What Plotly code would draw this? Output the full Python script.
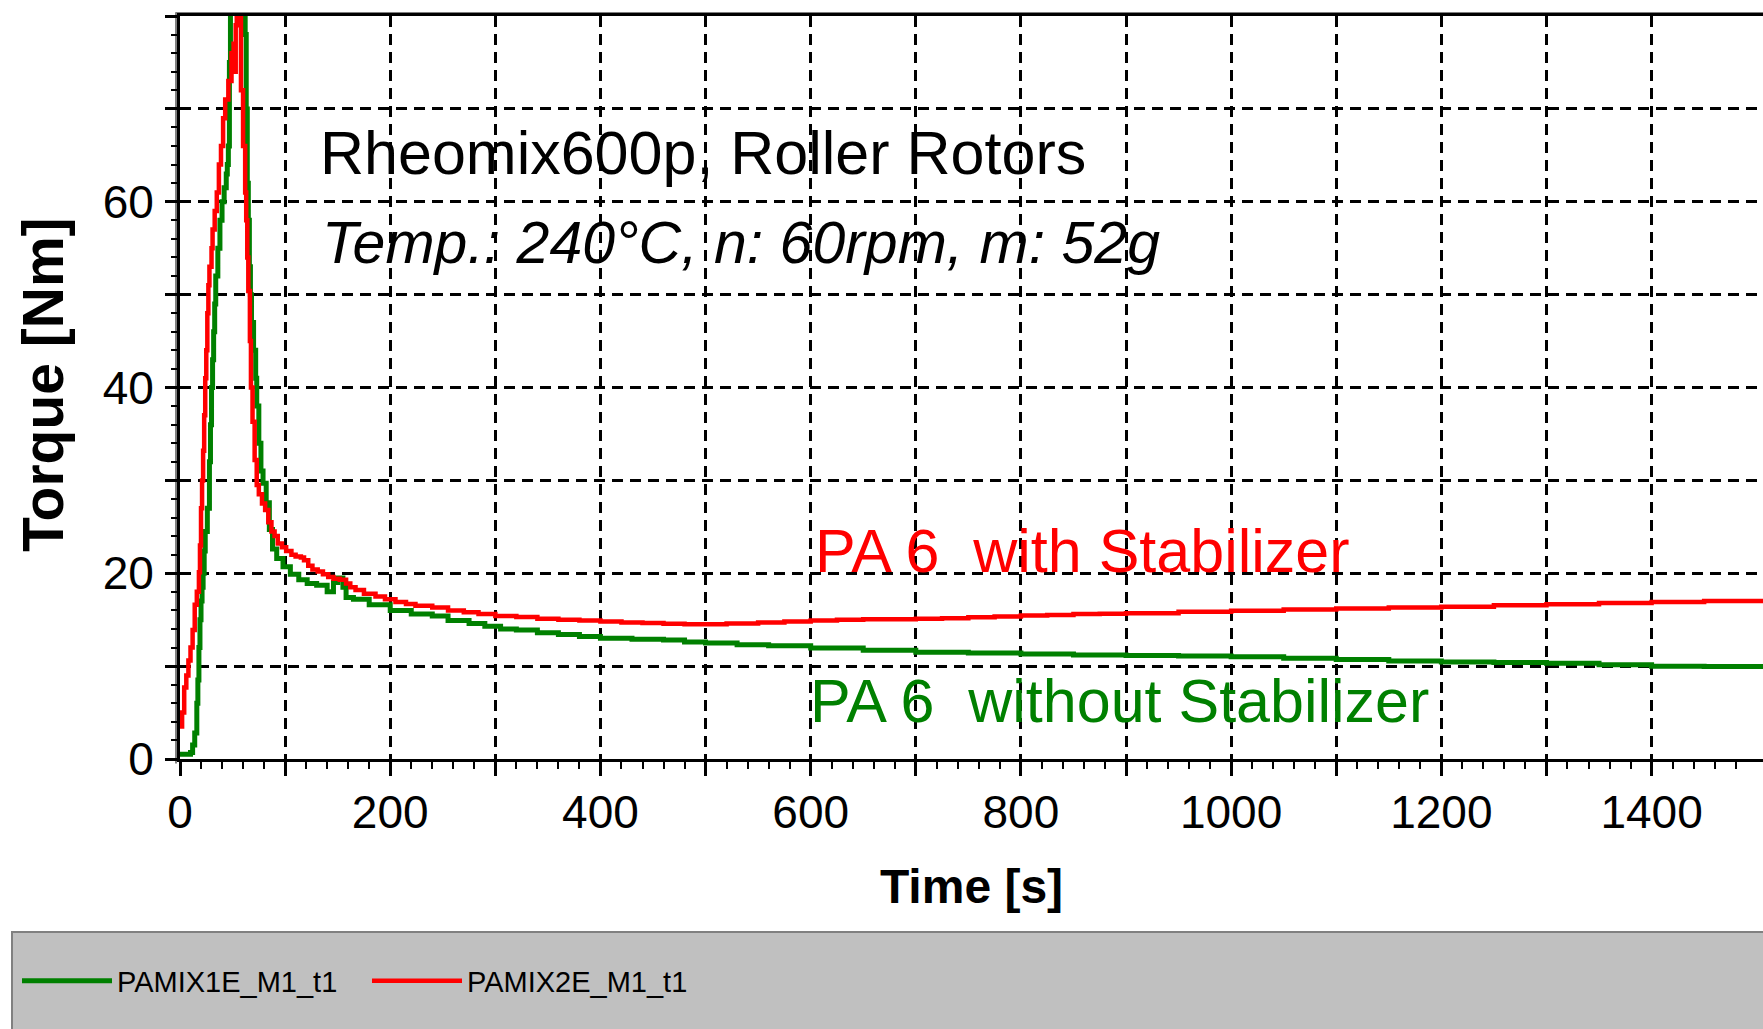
import plotly.graph_objects as go

# ---------------- data ----------------
series_names = ["PAMIX1E_M1_t1", "PAMIX2E_M1_t1"]
series_colors = ["#008000", "#FF0000"]

t_green = [0, 10, 12, 14, 16, 17, 18, 19, 20, 21, 22, 23, 24, 26, 28, 29, 30, 31, 32, 33,
           34, 36, 38, 40, 42, 44, 45, 46, 47, 48, 50, 55, 60, 62, 63, 64, 65, 66, 67, 68,
           70, 72, 73, 75, 77, 79, 82, 85, 88, 92, 98, 105, 113, 121, 130, 140, 146, 150,
           155, 158, 165, 180, 200, 220, 240, 255, 275, 290, 305, 320, 340, 360, 380, 400,
           430, 460, 480, 500, 530, 560, 600, 650, 700, 750, 800, 850, 900, 950, 1000, 1050,
           1100, 1150, 1200, 1250, 1300, 1350, 1400, 1450, 1506]
torque_green = [0.5, 0.7, 1.5, 2.8, 6.0, 8.5, 12.0, 15.0, 17.0, 18.5, 20.0, 22.4, 24.5, 27.0, 32.0, 36.0, 40.0, 43.0, 46.0, 49.0,
                52.0, 55.0, 58.0, 60.0, 61.5, 63.0, 64.0, 66.0, 75.0, 84.0, 88.0, 88.0, 86.0, 78.0, 70.0, 62.0, 58.0, 53.0, 50.0, 47.0,
                44.0, 41.0, 38.0, 34.0, 31.0, 29.7, 27.6, 24.7, 22.6, 21.6, 20.7, 19.9, 19.3, 18.9, 18.7, 18.0, 19.0, 19.5,
                18.5, 17.4, 17.2, 16.6, 16.0, 15.6, 15.4, 14.9, 14.6, 14.3, 14.0, 13.9, 13.6, 13.4, 13.2, 13.0,
                12.9, 12.8, 12.6, 12.5, 12.3, 12.2, 11.95, 11.7, 11.5, 11.4, 11.3, 11.2, 11.15, 11.1, 11.0, 10.85,
                10.7, 10.55, 10.45, 10.4, 10.3, 10.15, 10.0, 9.95, 9.9]

t_red = [0, 2, 4, 6, 8, 10, 12, 14, 16, 18, 19, 20, 21, 22, 23, 24, 25, 26, 27, 28, 30, 31, 33, 35,
         37, 39, 41, 43, 46, 49, 51, 52, 53, 54, 56, 57, 58, 60, 62, 63, 64, 65, 66.5, 67.5, 69, 71,
         73, 75, 78, 81, 84, 87, 90, 93, 97, 101, 106, 110, 115, 118, 122, 126, 131, 136, 141, 146,
         152, 158, 162, 167, 175, 186, 195, 205, 215, 224, 240, 255, 270, 284, 300, 320, 340, 360,
         380, 400, 420, 440, 460, 480, 500, 520, 550, 575, 600, 625, 650, 675, 700, 725, 750, 775,
         800, 825, 850, 875, 900, 950, 1000, 1050, 1100, 1150, 1200, 1250, 1300, 1350, 1400, 1450, 1506]
torque_red = [3.5, 5.0, 7.7, 9.0, 10.6, 12.0, 13.9, 16.6, 18.0, 20.1, 23.0, 27.0, 30.0, 33.2, 37.0, 41.0, 44.0, 48.0, 51.0, 53.0, 55.0, 57.0, 59.0, 61.0,
              64.0, 66.0, 69.0, 71.0, 73.0, 76.0, 77.0, 74.0, 79.0, 86.0, 88.0, 82.0, 72.0, 66.0, 61.0, 58.0, 54.0, 50.4, 45.0, 40.0, 36.3, 32.2,
              29.5, 28.5, 27.5, 26.8, 25.5, 24.5, 24.0, 23.2, 22.8, 22.4, 22.0, 21.8, 21.7, 21.4, 20.8, 20.4, 20.2, 19.9, 19.6, 19.4,
              19.3, 18.9, 18.5, 18.2, 17.8, 17.5, 17.2, 16.9, 16.7, 16.5, 16.3, 16.0, 15.8, 15.6, 15.4, 15.3, 15.1, 15.0,
              14.9, 14.8, 14.7, 14.65, 14.55, 14.5, 14.5, 14.6, 14.7, 14.8, 14.9, 15.0, 15.05, 15.05, 15.1, 15.15, 15.25, 15.35,
              15.45, 15.5, 15.6, 15.65, 15.7, 15.85, 15.95, 16.1, 16.2, 16.3, 16.4, 16.55, 16.65, 16.8, 16.9, 17.0, 17.0]

x_tick_values = [0, 100, 200, 300, 400, 500, 600, 700, 800, 900, 1000, 1100, 1200, 1300, 1400]
x_tick_labels = ["0", "", "200", "", "400", "", "600", "", "800", "", "1000", "", "1200", "", "1400"]
y_tick_values = [0, 10, 20, 30, 40, 50, 60, 70, 80]
y_tick_labels = ["0", "", "20", "", "40", "", "60", "", ""]

x_title = "Time [s]"
y_title = "Torque [Nm]"
note_line1 = "Rheomix600p, Roller Rotors"
note_line2 = "Temp.: 240°C, n: 60rpm, m: 52g"
label_red = "PA 6  with Stabilizer"
label_green = "PA 6  without Stabilizer"

# ---------------- figure ----------------
W, H = 1763, 1029
ML, MT, MB = 180, 16, 270
PW, PH = W - ML, H - MT - MB
SANS = "Liberation Sans, Arial, sans-serif"

fig = go.Figure()
fig.add_trace(go.Scatter(x=t_green, y=torque_green, mode="lines", name=series_names[0],
                         line=dict(color=series_colors[0], width=5, shape="hv")))
fig.add_trace(go.Scatter(x=t_red, y=torque_red, mode="lines", name=series_names[1],
                         line=dict(color=series_colors[1], width=4.5, shape="hv")))

x_minor = [v for v in range(20, 1500, 20) if v % 100 != 0]
y_minor = [v for v in range(2, 80, 2) if v % 10 != 0]

fig.update_layout(
    template="none",
    width=W, height=H,
    margin=dict(l=ML, r=0, t=MT, b=MB, pad=0),
    paper_bgcolor="white", plot_bgcolor="white",
    showlegend=True,
    legend=dict(orientation="h", x=(17 - ML) / PW, xanchor="left",
                y=(759 - 981) / PH, yanchor="middle",
                bgcolor="rgba(0,0,0,0)", borderwidth=0,
                font=dict(family=SANS, size=29, color="black"),
                itemwidth=90, entrywidth=245, entrywidthmode="pixels", tracegroupgap=0),
    xaxis=dict(range=[0, 1506], tickmode="array", tickvals=x_tick_values, ticktext=x_tick_labels,
               showgrid=True, gridcolor="black", gridwidth=3, griddash="11px,7px",
               showline=True, linecolor="black", linewidth=3, mirror=True,
               ticks="outside", ticklen=14, tickwidth=3, tickcolor="black",
               ticklabelstandoff=-3,
               tickfont=dict(family=SANS, size=46, color="black"),
               minor=dict(tickmode="array", tickvals=x_minor, ticks="outside", ticklen=7,
                          tickwidth=2, tickcolor="black", showgrid=False),
               zeroline=False, automargin=False,
               title=dict(text=x_title, standoff=33,
                          font=dict(family=SANS, size=48, color="black", weight="bold"))),
    yaxis=dict(range=[0, 80], tickmode="array", tickvals=y_tick_values, ticktext=y_tick_labels,
               showgrid=True, gridcolor="black", gridwidth=3, griddash="11px,7px",
               showline=True, linecolor="black", linewidth=3, mirror=False,
               ticks="outside", ticklen=12, tickwidth=3, tickcolor="black",
               ticklabelstandoff=2,
               tickfont=dict(family=SANS, size=46, color="black"),
               minor=dict(tickmode="array", tickvals=y_minor, ticks="outside", ticklen=6,
                          tickwidth=2, tickcolor="black", showgrid=False),
               zeroline=False, automargin=False),
)

# y-axis title placed as a rotated annotation beside the axis
fig.add_annotation(xref="paper", yref="paper", x=(43 - ML) / PW, y=(759 - 385) / PH,
                   text="<b>" + y_title + "</b>", textangle=-90, showarrow=False,
                   xanchor="center", yanchor="middle",
                   font=dict(family=SANS, size=57, color="black"))

# 3D-style grey border lines beside the frame and legend panel
fig.add_shape(type="line", xref="paper", yref="paper", xsizemode="pixel", xanchor=0,
              x0=-4, x1=-4, y0=-0.006, y1=1.004, line=dict(color="#808080", width=2), layer="below")
fig.add_shape(type="line", xref="paper", yref="paper", ysizemode="pixel", yanchor=1,
              y0=3, y1=3, x0=-0.003, x1=1, line=dict(color="#808080", width=2), layer="below")
fig.add_shape(type="rect", xref="paper", yref="paper", xsizemode="pixel", ysizemode="pixel",
              xanchor=0, yanchor=0, x0=12 - ML, x1=W - ML + 10, y0=-(932 - 759), y1=-(1029 - 759 + 20),
              fillcolor="#C0C0C0", line=dict(color="#808080", width=2), layer="below")

fig.add_annotation(x=131, y=65.3, xref="x", yref="y", text=note_line1, showarrow=False,
                   xanchor="left", yanchor="middle", font=dict(family=SANS, size=61, color="black"))
fig.add_annotation(x=133, y=55.6, xref="x", yref="y", text="<i>" + note_line2 + "</i>", showarrow=False,
                   xanchor="left", yanchor="middle", font=dict(family=SANS, size=59, color="black"))
fig.add_annotation(x=602, y=22.4, xref="x", yref="y", text=label_red, showarrow=False,
                   xanchor="left", yanchor="middle", font=dict(family=SANS, size=61, color=series_colors[1]))
fig.add_annotation(x=597, y=6.2, xref="x", yref="y", text=label_green, showarrow=False,
                   xanchor="left", yanchor="middle", font=dict(family=SANS, size=61, color=series_colors[0]))

fig.write_html("out.html")
